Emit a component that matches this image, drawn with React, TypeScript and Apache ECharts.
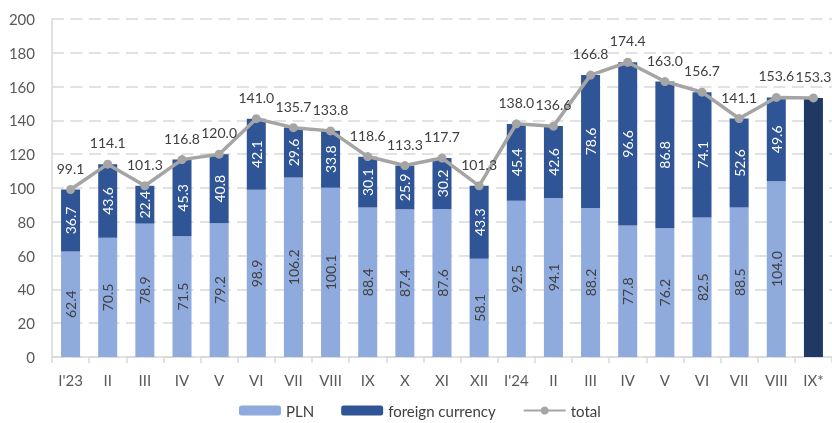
import React, { useEffect, useRef } from "react";
import * as echarts from "echarts";

const categories = ["I'23","II","III","IV","V","VI","VII","VIII","IX","X","XI","XII","I'24","II","III","IV","V","VI","VII","VIII","IX*"];
const plnValues = [62.4,70.5,78.9,71.5,79.2,98.9,106.2,100.1,88.4,87.4,87.6,58.1,92.5,94.1,88.2,77.8,76.2,82.5,88.5,104.0,null];
const foreignValues = [36.7,43.6,22.4,45.3,40.8,42.1,29.6,33.8,30.1,25.9,30.2,43.3,45.4,42.6,78.6,96.6,86.8,74.1,52.6,49.6,null];
const flashValues = [null,null,null,null,null,null,null,null,null,null,null,null,null,null,null,null,null,null,null,null,153.3];
const totalValues = [99.1,114.1,101.3,116.8,120.0,141.0,135.7,133.8,118.6,113.3,117.7,101.3,138.0,136.6,166.8,174.4,163.0,156.7,141.1,153.6,153.3];

const FONT = "Lato, 'Noto Sans', sans-serif";

export default function App() {
  const ref = useRef<HTMLDivElement>(null);
  useEffect(() => {
    const chart = echarts.init(ref.current!, null, { renderer: "svg" });
    chart.setOption({
      animation: false,
      textStyle: { fontFamily: FONT },
      grid: { left: 52, top: 19, width: 783, height: 338 },
      legend: {
        data: ["PLN", "foreign currency", "total"],
        left: 234,
        top: 400,
        padding: [3, 5],
        itemWidth: 42,
        itemHeight: 10,
        itemGap: 27,
        textStyle: { fontFamily: FONT, fontSize: 15, color: "#404040" },
      },
      xAxis: {
        type: "category",
        data: categories,
        axisLine: { lineStyle: { color: "#D9D9D9", width: 1.5 } },
        axisTick: { show: true, length: 6, lineStyle: { color: "#D9D9D9", width: 1.5 } },
        axisLabel: { color: "#595959", fontSize: 15, margin: 15, fontFamily: FONT },
      },
      yAxis: {
        type: "value",
        min: 0,
        max: 200,
        interval: 20,
        axisLine: { show: true, lineStyle: { color: "#D9D9D9", width: 1.5 } },
        axisTick: { show: false },
        axisLabel: { color: "#595959", fontSize: 15, margin: 17, fontFamily: FONT },
        splitLine: { lineStyle: { color: "#D9D9D9", width: 1.5, type: [12, 6.5] } },
      },
      series: [
        {
          name: "PLN",
          type: "bar",
          stack: "a",
          barWidth: 19,
          data: plnValues,
          itemStyle: { color: "#8FAADC" },
          label: { show: true, position: "inside", rotate: 90, color: "#404040", fontSize: 14, fontFamily: FONT, formatter: (p: any) => p.value.toFixed(1) },
        },
        {
          name: "foreign currency",
          type: "bar",
          stack: "a",
          barWidth: 19,
          data: foreignValues,
          itemStyle: { color: "#2F5597" },
          label: { show: true, position: "inside", rotate: 90, color: "#FFFFFF", fontSize: 14, fontFamily: FONT, formatter: (p: any) => p.value.toFixed(1) },
        },
        {
          name: "flash",
          type: "bar",
          stack: "a",
          barWidth: 19,
          data: flashValues,
          itemStyle: { color: "#203864" },
        },
        {
          name: "total",
          type: "line",
          data: totalValues,
          symbol: "circle",
          symbolSize: 9,
          lineStyle: { color: "#A5A5A5", width: 3.5 },
          itemStyle: { color: "#A5A5A5" },
          label: { show: true, position: "top", distance: 10, color: "#404040", fontSize: 14, fontFamily: FONT, formatter: (p: any) => p.value.toFixed(1) },
          z: 5,
        },
      ],
    });
    return () => chart.dispose();
  }, []);
  return <div ref={ref} style={{ position: "fixed", left: 0, top: 0, width: 832, height: 423 }} />;
}
